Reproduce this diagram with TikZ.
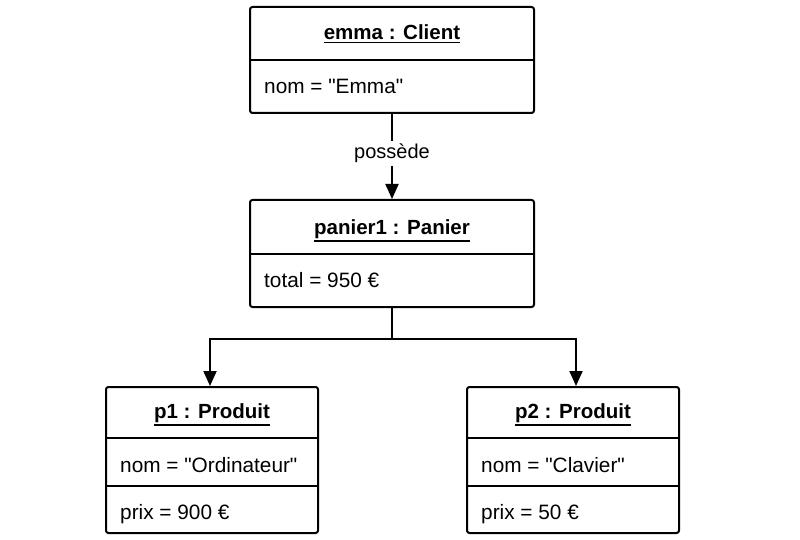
\documentclass[tikz,border=0pt]{standalone}
\usepackage{fontspec}
\setmainfont{Liberation Sans}[Ligatures=TeXOff]
\usetikzlibrary{arrows.meta}
\newcommand{\objul}[1]{\leavevmode\vtop{\hbox{#1}\kern1.6pt\hrule height 1.7pt}}
\begin{document}
\begin{tikzpicture}[x=1pt,y=-1pt,
  objbox/.style={draw, line width=2pt, rounded corners=2.5pt, inner sep=0pt},
  sep/.style={line width=2pt},
  ttl/.style={font=\fontsize{20.5}{24}\selectfont\bfseries, inner sep=0pt, anchor=base},
  attr/.style={font=\fontsize{20.8}{24}\selectfont, anchor=base west, inner sep=0pt},
  conn/.style={line width=2pt},
  arr/.style={line width=2pt, -{Triangle[length=15pt,width=13pt]}},
  lbl/.style={font=\fontsize{20}{24}\selectfont, fill=white, inner sep=3pt, anchor=base}
]
\useasboundingbox (0,0) rectangle (800,540);

% emma : Client
\node[objbox, minimum width=284pt, minimum height=106pt] (emma) at (392,60) {};
\draw[sep] (emma.west |- 0,60) -- (emma.east |- 0,60);
\node[ttl] (emmaT) at (392,40) {\objul{emma : Client}};
\node[attr] (emmaA) at (264,93.5) {nom = "Emma"};

% panier1 : Panier
\node[objbox, minimum width=284pt, minimum height=107pt] (panier) at (392,253.5) {};
\draw[sep] (panier.west |- 0,254) -- (panier.east |- 0,254);
\node[ttl] (panierT) at (392,234) {\objul{panier1 : Panier}};
\node[attr] (panierA) at (264,287.5) {total = 950 €};

% p1 : Produit
\node[objbox, minimum width=212pt, minimum height=146pt] (p1) at (212,460) {};
\draw[sep] (p1.west |- 0,438) -- (p1.east |- 0,438);
\draw[sep] (p1.west |- 0,486) -- (p1.east |- 0,486);
\node[ttl] (p1T) at (212,418.5) {\objul{p1 : Produit}};
\node[attr] (p1A) at (120,472) {nom = "Ordinateur"};
\node[attr] (p1B) at (120,519) {prix = 900 €};

% p2 : Produit
\node[objbox, minimum width=212pt, minimum height=146pt] (p2) at (573,460) {};
\draw[sep] (p2.west |- 0,438) -- (p2.east |- 0,438);
\draw[sep] (p2.west |- 0,486) -- (p2.east |- 0,486);
\node[ttl] (p2T) at (573,418.5) {\objul{p2 : Produit}};
\node[attr] (p2A) at (481,472) {nom = "Clavier"};
\node[attr] (p2B) at (481,519) {prix = 50 €};

% connectors
\draw[arr] (emma.south) -- (panier.north);
\node[lbl] (possede) at (392,159) {possède};

\coordinate (junc) at (392,339);
\draw[conn] (panier.south) -- (junc);
\draw[arr] (junc) -| ([xshift=-2pt]p1.north);
\draw[arr] (junc) -| ([xshift=3pt]p2.north);
\end{tikzpicture}
\end{document}
